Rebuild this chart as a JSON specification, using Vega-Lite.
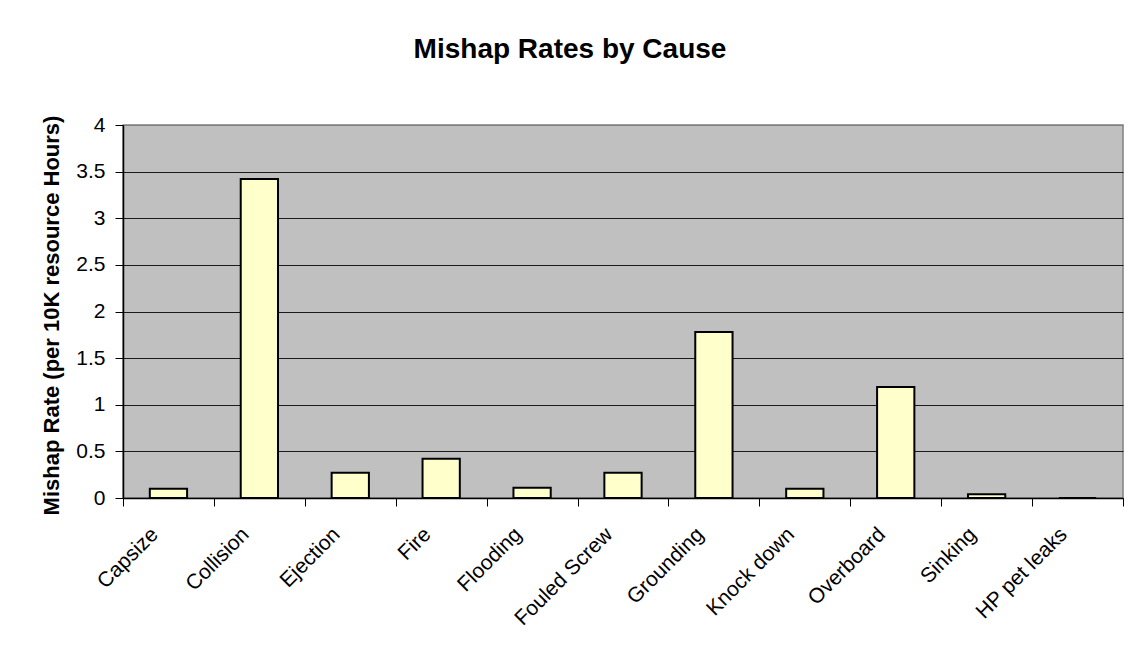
{
  "$schema": "https://vega.github.io/schema/vega-lite/v6.json",
  "width": 1000,
  "height": 373,
  "autosize": {"type": "none"},
  "padding": {"left": 123, "top": 125, "right": 6, "bottom": 159},
  "background": "white",
  "title": {
    "text": "Mishap Rates by Cause",
    "font": "Liberation Sans",
    "fontSize": 28,
    "fontWeight": "bold",
    "color": "black",
    "anchor": "middle",
    "frame": "group",
    "baseline": "alphabetic",
    "offset": 28,
    "dx": -53
  },
  "data": {
    "values": [
      {"cause": "Capsize", "rate": 0.1},
      {"cause": "Collision", "rate": 3.42},
      {"cause": "Ejection", "rate": 0.27},
      {"cause": "Fire", "rate": 0.42},
      {"cause": "Flooding", "rate": 0.11},
      {"cause": "Fouled Screw", "rate": 0.27},
      {"cause": "Grounding", "rate": 1.78},
      {"cause": "Knock down", "rate": 0.1},
      {"cause": "Overboard", "rate": 1.19},
      {"cause": "Sinking", "rate": 0.04},
      {"cause": "HP pet leaks", "rate": 0}
    ]
  },
  "mark": {"type": "bar", "fill": "#FFFFCC", "stroke": "black", "strokeWidth": 2, "width": {"band": 0.41}},
  "encoding": {
    "x": {
      "field": "cause",
      "type": "nominal",
      "sort": null,
      "scale": {"paddingInner": 0, "paddingOuter": 0},
      "axis": {
        "title": null,
        "labelAngle": -45,
        "labelAlign": "right",
        "labelBaseline": "middle",
        "labelFont": "Liberation Sans",
        "labelFontSize": 21,
        "labelColor": "black",
        "labelPadding": 25,
        "labelOffset": -14,
        "labelLimit": 0,
        "labelOverlap": false,
        "tickBand": "extent",
        "tickSize": 8,
        "tickColor": "black",
        "tickWidth": 1,
        "domainColor": "black",
        "domainWidth": 1.5,
        "grid": false
      }
    },
    "y": {
      "field": "rate",
      "type": "quantitative",
      "scale": {"domain": [0, 4], "nice": false},
      "axis": {
        "title": "Mishap Rate (per 10K resource Hours)",
        "titleFont": "Liberation Sans",
        "titleFontSize": 22,
        "titleFontWeight": "bold",
        "titleColor": "black",
        "titleAngle": -90,
        "titleAlign": "center",
        "titleBaseline": "bottom",
        "titleX": -60,
        "titleY": 190,
        "values": [0, 0.5, 1, 1.5, 2, 2.5, 3, 3.5, 4],
        "format": ".1~f",
        "labelFont": "Liberation Sans",
        "labelFontSize": 21,
        "labelColor": "black",
        "labelPadding": 10,
        "tickSize": 8,
        "tickColor": "black",
        "domainColor": "black",
        "domainWidth": 1.5,
        "grid": true,
        "gridColor": {"condition": {"test": "datum.value === 4", "value": "#808080"}, "value": "#1a1a1a"},
        "gridWidth": 1
      }
    }
  },
  "config": {
    "view": {"fill": "#C0C0C0", "stroke": "#808080", "strokeWidth": 1.5}
  }
}
